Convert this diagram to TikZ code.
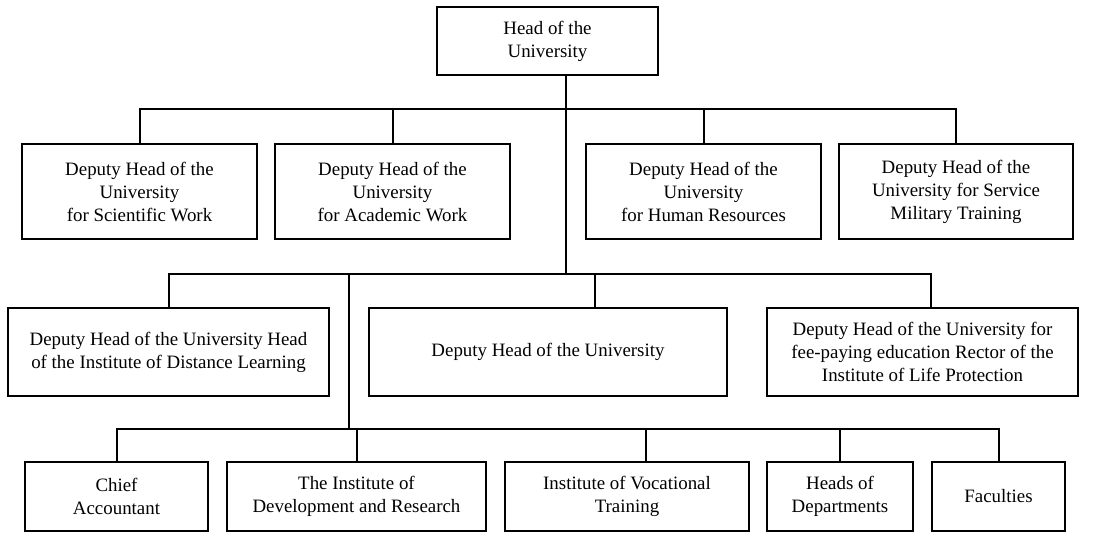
\documentclass[tikz,border=0pt]{standalone}
\usepackage{fontspec}
\setmainfont{Liberation Serif}
\begin{document}
\begin{tikzpicture}[x=1pt,y=-1pt,
  box/.style={draw,line width=2pt,align=center,inner sep=0pt,font=\fontsize{18.9}{23}\selectfont},
  conn/.style={line width=2pt}]
\useasboundingbox (0,0) rectangle (1116,533);
% top
\node[box,minimum width=221pt,minimum height=68pt] (head) at (547.5,41) {Head of the\\University};
% row 1
\node[box,minimum width=235pt,minimum height=95pt] (b1) at (139.5,191.5) {Deputy Head of the\\University\\for Scientific Work};
\node[box,minimum width=235pt,minimum height=95pt] (b2) at (392.5,191.5) {Deputy Head of the\\University\\for Academic Work};
\node[box,minimum width=235pt,minimum height=95pt] (b3) at (703.5,191.5) {Deputy Head of the\\University\\for Human Resources};
\node[box,minimum width=234pt,minimum height=95pt] (b4) at (956,191.5) {Deputy Head of the\\University for Service\\Military Training};
% row 2
\node[box,minimum width=321pt,minimum height=88pt] (b5) at (168.5,352) {Deputy Head of the University Head\\of the Institute of Distance Learning};
\node[box,minimum width=358pt,minimum height=88pt] (b6) at (548,352) {Deputy Head of the University};
\node[box,minimum width=311pt,minimum height=88pt] (b7) at (922.5,352) {Deputy Head of the University for\\fee-paying education Rector of the\\Institute of Life Protection};
% row 3
\node[box,minimum width=183pt,minimum height=69pt] (b8) at (116.5,496.5) {Chief\\Accountant};
\node[box,minimum width=259pt,minimum height=69pt] (b9) at (356.5,496.5) {The Institute of\\Development and Research};
\node[box,minimum width=244pt,minimum height=69pt] (b10) at (627,496.5) {Institute of Vocational\\Training};
\node[box,minimum width=146pt,minimum height=69pt] (b11) at (840,496.5) {Heads of\\Departments};
\node[box,minimum width=133pt,minimum height=69pt] (b12) at (998.5,496.5) {Faculties};
% junctions
\coordinate (j1) at (566,109);
\coordinate (j2) at (566,274);
\coordinate (j3) at (349,274);
\coordinate (j4) at (349,429);
\coordinate (m6) at (595,274);
\coordinate (m7) at (931,274);
\coordinate (d10) at (646,429);
% trunk
\draw[conn] (head.south -| j1) -- (j2);
% top bus
\draw[conn] (b1.north) -- (b1.north |- j1) -- (b4.north |- j1) -- (b4.north);
\draw[conn] (b2.north) -- (b2.north |- j1);
\draw[conn] (b3.north) -- (b3.north |- j1);
% middle bus
\draw[conn] (b5.north) -- (b5.north |- j2) -- (m7) -- (b7.north -| m7);
\draw[conn] (m6) -- (b6.north -| m6);
% lower trunk
\draw[conn] (j3) -- (j4);
% bottom bus
\draw[conn] (b8.north) -- (b8.north |- j4) -- (b12.north |- j4) -- (b12.north);
\draw[conn] (b9.north) -- (b9.north |- j4);
\draw[conn] (d10) -- (b10.north -| d10);
\draw[conn] (b11.north) -- (b11.north |- j4);
\end{tikzpicture}
\end{document}
